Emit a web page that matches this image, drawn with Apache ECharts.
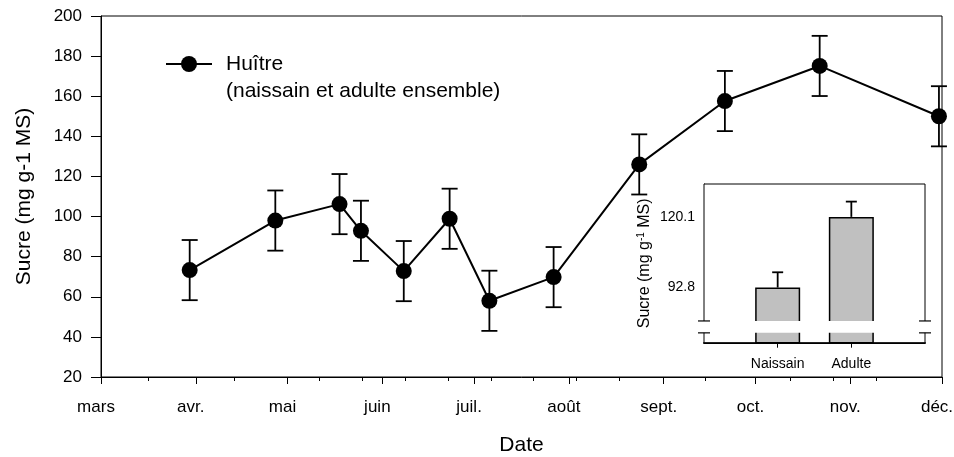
<!DOCTYPE html>
<html><head><meta charset="utf-8">
<script src="https://cdn.jsdelivr.net/npm/echarts@6/dist/echarts.min.js"></script>
<style>html,body{margin:0;padding:0;background:#fff}#c{width:954px;height:457px}</style>
</head><body><div id="c"></div>
<script>
// Sampling dates expressed as days after 1 March
const sampleDays = [29, 57, 78, 85, 99, 114, 127, 148, 176, 204, 235, 274];
const sugarMean  = [73.3, 98.0, 106.2, 92.9, 72.8, 98.9, 58.0, 69.8, 126.0, 157.6, 175.1, 150.0];
const sugarSE    = [15, 15, 15, 15, 15, 15, 15, 15, 15, 15, 15, 15];
const monthTickDays = [0, 31, 61, 92, 122, 153, 184, 214, 245, 275];
const monthLabels   = ['mars', 'avr.', 'mai', 'juin', 'juil.', 'août', 'sept.', 'oct.', 'nov.', 'déc.'];
const minorTickDays = [15.5, 43.5, 71.5, 85.5, 99.5, 113.5, 127.5, 141.5, 155.5, 169.5, 197.5, 225.5, 239.5, 253.5];
const seriesName = 'Huître\n(naissain et adulte ensemble)';

// Inset
const insetCategories = ['Naissain', 'Adulte'];
const insetPositions  = [1, 2];
const insetMeans      = [92.8, 120.1];
const insetSE         = [5.9, 5.9];
const insetTickValues = [92.8, 120.1];
const insetBreak      = [75.3, 79.9];

const FONT = '"Liberation Sans", Arial, sans-serif';
const chart = echarts.init(document.getElementById('c'), null, {renderer: 'canvas'});

function errRender(withLower, cap) {
  return function (params, api) {
    const x = api.value(0), lo = api.value(1), hi = api.value(2);
    const pHi = api.coord([x, hi]);
    const pLo = api.coord([x, lo]);
    const st = {stroke: '#000', lineWidth: 1.8};
    const ch = [
      {type: 'line', shape: {x1: pHi[0], y1: pHi[1], x2: pLo[0], y2: pLo[1]}, style: st},
      {type: 'line', shape: {x1: pHi[0] - cap, y1: pHi[1], x2: pHi[0] + cap, y2: pHi[1]}, style: st}
    ];
    if (withLower) ch.push({type: 'line', shape: {x1: pLo[0] - cap, y1: pLo[1], x2: pLo[0] + cap, y2: pLo[1]}, style: st});
    return {type: 'group', children: ch};
  };
}

const option = {
  backgroundColor: '#fff',
  animation: false,
  textStyle: {fontFamily: FONT, color: '#000'},
  legend: {
    left: 165, top: 23.5, padding: 0, itemWidth: 46, itemHeight: 20, itemGap: 0,
    data: [seriesName],
    formatter: name => '\n' + name,
    textStyle: {fontFamily: FONT, fontSize: 21, color: '#000', lineHeight: 27, padding: [0, 0, 0, 9]}
  },
  grid: [
    {left: 101, right: 12, top: 16, bottom: 80, show: true, borderColor: '#000', borderWidth: 1,
      backgroundColor: 'transparent', outerBoundsMode: 'none', containLabel: false},
    {left: 704, top: 184, width: 221, height: 158.7, show: true, borderColor: '#000', borderWidth: 1,
      backgroundColor: '#fff', z: 5, outerBoundsMode: 'none', containLabel: false}
  ],
  xAxis: [
    {
      type: 'value', gridIndex: 0, min: 0, max: 275,
      axisLine: {show: true, onZero: false, lineStyle: {color: '#000', width: 1}},
      axisTick: {show: true, length: 7, customValues: monthTickDays, lineStyle: {color: '#000', width: 1}},
      axisLabel: {customValues: monthTickDays, fontSize: 17, fontFamily: FONT, color: '#000', margin: 22, padding: [0, 10, 0, 0],
        formatter: v => monthLabels[monthTickDays.indexOf(v)]},
      splitLine: {show: false},
      name: 'Date', nameLocation: 'middle', nameGap: 58,
      nameTextStyle: {fontSize: 21, fontFamily: FONT, color: '#000'}
    },
    {
      type: 'value', gridIndex: 0, min: 0, max: 275, position: 'bottom',
      axisLine: {show: false},
      axisTick: {show: true, length: 4, customValues: minorTickDays, lineStyle: {color: '#000', width: 1}},
      axisLabel: {show: false}, splitLine: {show: false}
    },
    {
      type: 'value', gridIndex: 1, min: 0, max: 3,
      axisLine: {show: true, onZero: false, lineStyle: {color: '#000', width: 2}},
      axisTick: {show: true, length: 5, customValues: insetPositions, lineStyle: {color: '#000', width: 1}},
      axisLabel: {customValues: insetPositions, fontSize: 14, fontFamily: FONT, color: '#000', margin: 14,
        formatter: v => insetCategories[insetPositions.indexOf(v)]},
      splitLine: {show: false}
    }
  ],
  yAxis: [
    {
      type: 'value', gridIndex: 0, min: 20, max: 200, interval: 20,
      axisLine: {show: true, lineStyle: {color: '#000', width: 1}},
      axisTick: {show: true, length: 10, lineStyle: {color: '#000', width: 1}},
      axisLabel: {fontSize: 17, fontFamily: FONT, color: '#000', margin: 19},
      splitLine: {show: false},
      name: 'Sucre (mg g-1 MS)', nameLocation: 'middle', nameGap: 66,
      nameTextStyle: {fontSize: 21, fontFamily: FONT, color: '#000'}
    },
    {
      type: 'value', gridIndex: 1, min: 71.5, max: 132.8,
      axisLine: {show: true, lineStyle: {color: '#000', width: 1}},
      axisTick: {show: false},
      axisLabel: {customValues: insetTickValues, fontSize: 14, fontFamily: FONT, color: '#000', margin: 9,
        formatter: v => v.toFixed(1)},
      splitLine: {show: false},
      name: '{a|Sucre (mg g}{b|-1}{a| MS)}', nameLocation: 'middle', nameGap: 50,
      nameTextStyle: {rich: {
        a: {fontSize: 16, fontFamily: FONT, color: '#000', lineHeight: 18},
        b: {fontSize: 10, fontFamily: FONT, color: '#000', verticalAlign: 'top', lineHeight: 18}
      }}
    }
  ],
  series: [
    {
      type: 'custom', name: 'err', xAxisIndex: 0, yAxisIndex: 0, z: 2, silent: true,
      renderItem: errRender(true, 8),
      encode: {x: 0, y: [1, 2]},
      data: sampleDays.map((d, i) => [d, sugarMean[i] - sugarSE[i], sugarMean[i] + sugarSE[i]])
    },
    {
      type: 'line', name: seriesName, xAxisIndex: 0, yAxisIndex: 0, z: 3, clip: false,
      symbol: 'circle', symbolSize: 16, color: '#000',
      itemStyle: {color: '#000'}, lineStyle: {color: '#000', width: 2},
      data: sampleDays.map((d, i) => [d, sugarMean[i]])
    },
    {
      type: 'bar', name: 'inset', xAxisIndex: 2, yAxisIndex: 1, z: 6, barWidth: 45,
      itemStyle: {color: '#c0c0c0', borderColor: '#000', borderWidth: 1.5},
      data: insetPositions.map((p, i) => [p, insetMeans[i]])
    },
    {
      type: 'custom', name: 'insetErr', xAxisIndex: 2, yAxisIndex: 1, z: 6, silent: true,
      renderItem: errRender(false, 5.5),
      encode: {x: 0, y: [1, 2]},
      data: insetPositions.map((p, i) => [p, insetMeans[i], insetMeans[i] + insetSE[i]])
    }
  ]
};
chart.setOption(option);

// axis break decoration on the inset
const yB1 = chart.convertToPixel({yAxisIndex: 1}, insetBreak[1]);
const yB0 = chart.convertToPixel({yAxisIndex: 1}, insetBreak[0]);
const xL = chart.convertToPixel({xAxisIndex: 2}, 0);
const xR = chart.convertToPixel({xAxisIndex: 2}, 3);
const ls = {stroke: '#000', lineWidth: 1.2};
chart.setOption({graphic: [
  {type: 'rect', z: 100, shape: {x: xL - 2, y: yB1, width: xR - xL + 4, height: yB0 - yB1}, style: {fill: '#fff'}},
  {type: 'line', z: 101, shape: {x1: xL - 6, y1: yB1, x2: xL + 6, y2: yB1}, style: ls},
  {type: 'line', z: 101, shape: {x1: xL - 6, y1: yB0, x2: xL + 6, y2: yB0}, style: ls},
  {type: 'line', z: 101, shape: {x1: xR - 6, y1: yB1, x2: xR + 6, y2: yB1}, style: ls},
  {type: 'line', z: 101, shape: {x1: xR - 6, y1: yB0, x2: xR + 6, y2: yB0}, style: ls}
]});
</script></body></html>
